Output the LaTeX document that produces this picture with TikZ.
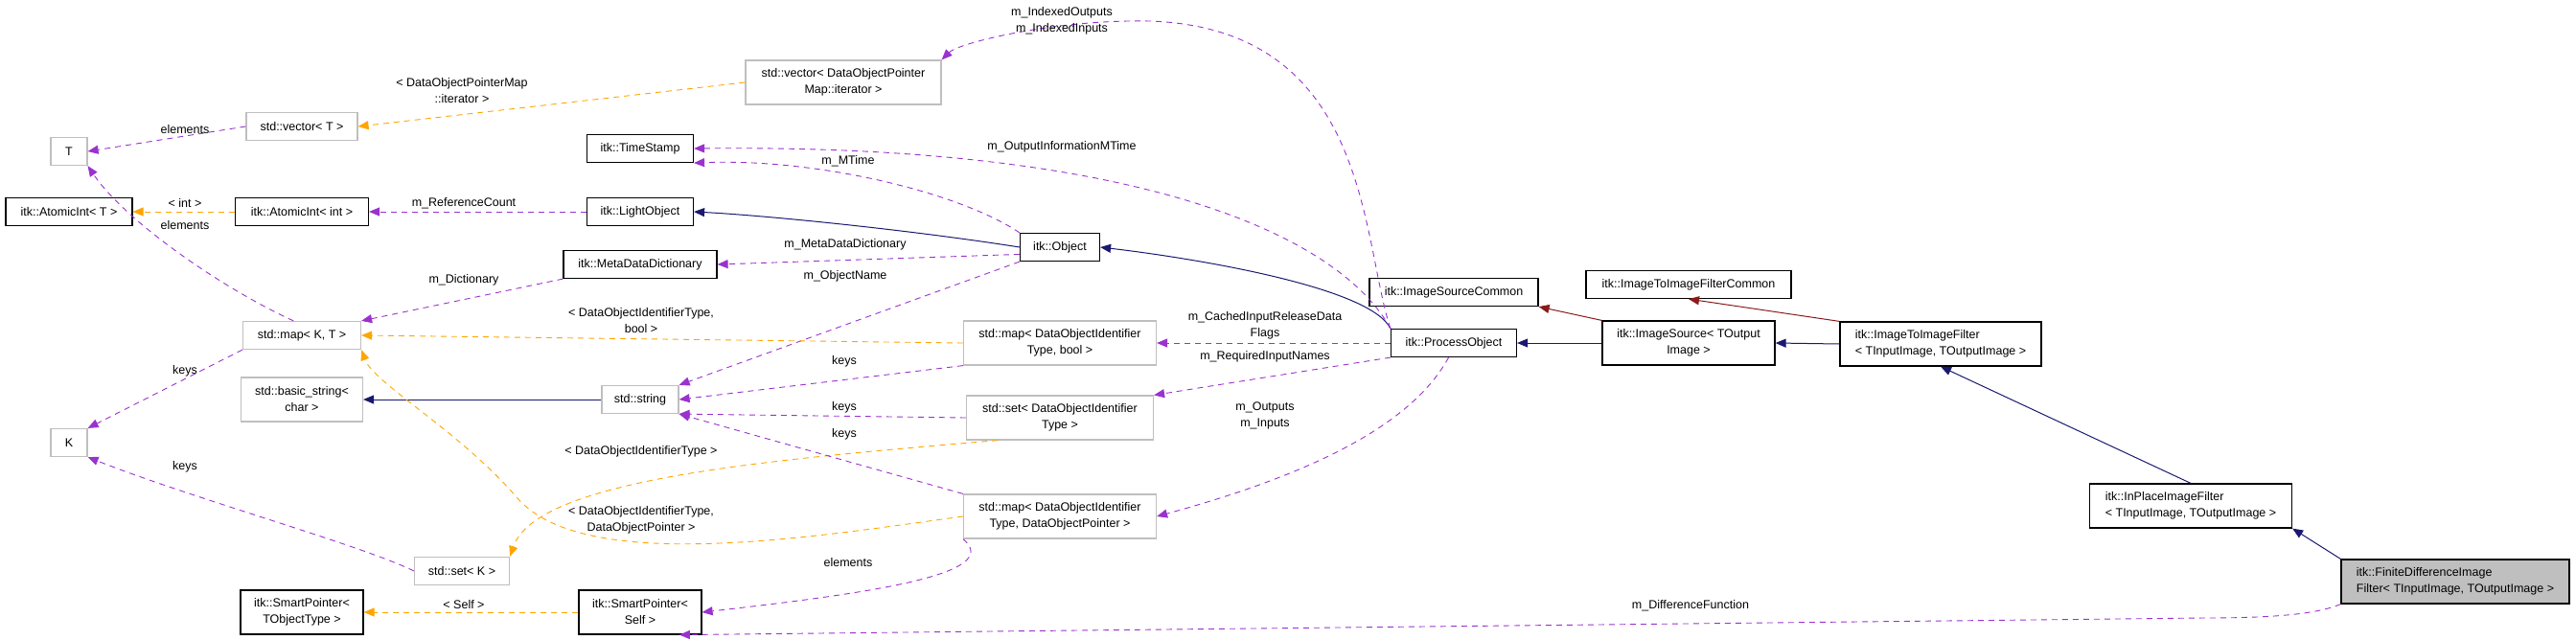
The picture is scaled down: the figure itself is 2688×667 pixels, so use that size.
\documentclass[tikz,border=0pt]{standalone}
\usepackage{fontspec}
\setmainfont{Liberation Sans}
\usetikzlibrary{arrows.meta}
\definecolor{purp}{HTML}{9A32CD}
\definecolor{orng}{HTML}{FFA500}
\definecolor{navy}{HTML}{191970}
\definecolor{dred}{HTML}{8B1A1A}
\begin{document}
\begin{tikzpicture}[x=1pt,y=-1pt,
  every node/.style={font=\fontsize{12.5}{17}\selectfont},
  box/.style={draw=black,line width=1.2pt,minimum height=29,inner sep=2pt,align=center},
  gbox/.style={box,draw=gray!50},
  tall/.style={minimum height=46},
  tip/.style={-{Triangle[length=11pt,width=9pt]}},
  mem/.style={tip,purp,dashed,dash pattern=on 6pt off 5pt,line width=0.9pt},
  tmpl/.style={tip,orng,dashed,dash pattern=on 6pt off 5pt,line width=0.9pt},
  inh/.style={tip,navy,line width=1pt},
  pinh/.style={tip,dred,line width=1pt},
  lbl/.style={inner sep=1pt,align=center}]
\useasboundingbox (0,0) rectangle (2688,667);
% nodes
\node[gbox,minimum width=38] (T) at (72,158) {T};
\node[gbox,minimum width=116] (vecT) at (315,132) {std::vector< T >};
\node[gbox,tall,minimum width=204] (vecD) at (880,86) {std::vector< DataObjectPointer\\Map::iterator >};
\node[box,minimum width=111] (TS) at (668,155) {itk::TimeStamp};
\node[box,minimum width=132] (AIT) at (72,221) {itk::AtomicInt< T >};
\node[box,minimum width=139] (AII) at (315,221) {itk::AtomicInt< int >};
\node[box,minimum width=111] (LO) at (668,221) {itk::LightObject};
\node[box,minimum width=160] (MDD) at (668,276) {itk::MetaDataDictionary};
\node[box,minimum width=83] (Obj) at (1106,258) {itk::Object};
\node[gbox,minimum width=123] (mapKT) at (315,350) {std::map< K, T >};
\node[gbox,tall,minimum width=127] (bstr) at (315,417) {std::basic\_string<\\char >};
\node[gbox,minimum width=38] (K) at (72,462) {K};
\node[gbox,minimum width=80] (str) at (668,417) {std::string};
\node[gbox,minimum width=99] (setK) at (482,596) {std::set< K >};
\node[box,tall,minimum width=128] (SPT) at (315,639) {itk::SmartPointer<\\TObjectType >};
\node[box,tall,minimum width=128] (SPS) at (668,639) {itk::SmartPointer<\\Self >};
\node[gbox,tall,minimum width=201] (mapB) at (1106,358) {std::map< DataObjectIdentifier\\Type, bool >};
\node[gbox,tall,minimum width=195] (setD) at (1106,436) {std::set< DataObjectIdentifier\\Type >};
\node[gbox,tall,minimum width=201] (mapD) at (1106,539) {std::map< DataObjectIdentifier\\Type, DataObjectPointer >};
\node[box,minimum width=131] (PO) at (1517,358) {itk::ProcessObject};
\node[box,minimum width=176] (ISC) at (1517,305) {itk::ImageSourceCommon};
\node[box,minimum width=214] (ITIC) at (1762,297) {itk::ImageToImageFilterCommon};
\node[box,tall,minimum width=180] (IS) at (1762,358) {itk::ImageSource< TOutput\\Image >};
\node[box,tall,minimum width=210,align=left] (ITI) at (2025,359) {itk::ImageToImageFilter\\< TInputImage, TOutputImage >};
\node[box,tall,minimum width=211,align=left] (IPF) at (2286,528) {itk::InPlaceImageFilter\\< TInputImage, TOutputImage >};
\node[box,tall,minimum width=238,align=left,fill=gray!50] (FD) at (2562,607) {itk::FiniteDifferenceImage\\Filter< TInputImage, TOutputImage >};
% edges
\draw[mem] (vecT.west) -- (T.east);
\draw[tmpl] (vecD.west) -- (vecT.east);
\draw[tmpl] (AII.west) -- (AIT.east);
\draw[mem] (mapKT.120) .. controls (230,300) and (130,230) .. (T.south east);
\draw[mem] (LO.west) -- (AII.east);
\draw[mem] (MDD.south west) -- (mapKT.north east);
\draw[mem] (mapKT.south west) -- (K.north east);
\draw[mem] (setK.west) .. controls (380,570) and (200,520) .. (K.south east);
\draw[inh] (str.west) -- (bstr.east);
\draw[inh] (Obj.west) .. controls (950,240) and (800,225) .. (LO.east);
\draw[mem] (Obj.north west) .. controls (1000,200) and (850,165) .. (TS.south east);
\draw[mem] (Obj.190) -- (MDD.east);
\draw[mem] (Obj.south west) -- (str.north east);
\draw[inh] (PO.north west) .. controls (1430,300) and (1250,270) .. (Obj.east);
\draw[mem] (PO.north west) .. controls (1400,250) and (1200,150) .. (TS.east);
\draw[mem] (PO.north west) .. controls (1420,250) and (1430,30) .. (1200,22) .. controls (1100,20) and (1000,45) .. (vecD.north east);
\draw[mem] (PO.west) -- (mapB.east);
\draw[mem] (PO.south west) -- (setD.north east);
\draw[mem] (PO.250) .. controls (1470,450) and (1350,500) .. (mapD.east);
\draw[mem] (mapB.south west) -- (str.east);
\draw[tmpl] (mapB.west) -- (mapKT.east);
\draw[mem] (setD.west) -- (str.south east);
\draw[tmpl] (setD.200) .. controls (800,480) and (560,500) .. (setK.north east);
\draw[mem] (mapD.north west) -- (str.south east);
\draw[tmpl] (mapD.west) .. controls (850,560) and (610,600) .. (540,520) .. controls (480,450) and (390,400) .. (mapKT.south east);
\draw[mem] (mapD.south west) .. controls (1050,600) and (900,620) .. (SPS.east);
\draw[tmpl] (SPS.west) -- (SPT.east);
\draw[inh] (IS.west) -- (PO.east);
\draw[pinh] (IS.north west) -- (ISC.south east);
\draw[inh] (ITI.west) -- (IS.east);
\draw[pinh] (ITI.north west) -- (ITIC.south);
\draw[inh] (IPF.north) -- (ITI.south);
\draw[inh] (FD.north west) -- (IPF.south east);
\coordinate (fdmid) at (2300,645);
\draw[mem] (FD.south west) .. controls (2420,640) and (2380,645) .. (fdmid) -- (SPS.330);
% labels
\node[lbl] (l1) at (482,95) {< DataObjectPointerMap\\::iterator >};
\node[lbl] (l2) at (193,135) {elements};
\node[lbl] (l3) at (193,212) {< int >};
\node[lbl] (l4) at (193,235) {elements};
\node[lbl] (l5) at (484,212) {m\_ReferenceCount};
\node[lbl] (l6) at (885,168) {m\_MTime};
\node[lbl] (l7) at (1108,153) {m\_OutputInformationMTime};
\node[lbl] (l8) at (1108,22) {m\_IndexedOutputs\\m\_IndexedInputs};
\node[lbl] (l9) at (882,255) {m\_MetaDataDictionary};
\node[lbl] (l10) at (882,288) {m\_ObjectName};
\node[lbl] (l11) at (484,292) {m\_Dictionary};
\node[lbl] (l12) at (669,335) {< DataObjectIdentifierType,\\bool >};
\node[lbl] (l13) at (881,377) {keys};
\node[lbl] (l14) at (881,425) {keys};
\node[lbl] (l15) at (881,453) {keys};
\node[lbl] (l16) at (193,387) {keys};
\node[lbl] (l17) at (193,487) {keys};
\node[lbl] (l18) at (669,471) {< DataObjectIdentifierType >};
\node[lbl] (l19) at (669,543) {< DataObjectIdentifierType,\\DataObjectPointer >};
\node[lbl] (l20) at (885,587) {elements};
\node[lbl] (l21) at (484,631) {< Self >};
\node[lbl] (l22) at (1320,340) {m\_CachedInputReleaseData\\Flags};
\node[lbl] (l23) at (1320,372) {m\_RequiredInputNames};
\node[lbl] (l24) at (1320,434) {m\_Outputs\\m\_Inputs};
\node[lbl] (l25) at (1764,632) {m\_DifferenceFunction};
\end{tikzpicture}
\end{document}
